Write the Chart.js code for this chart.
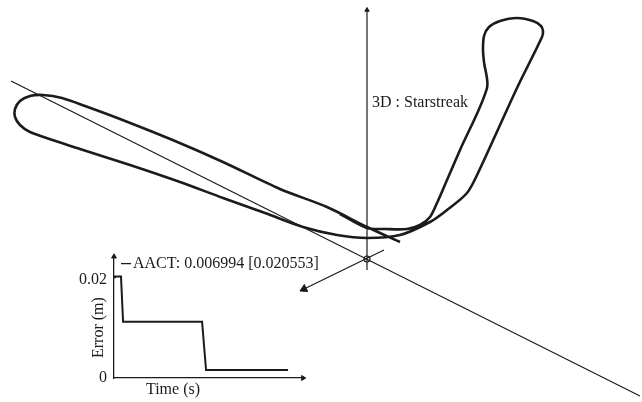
<!DOCTYPE html>
<html>
<head>
<meta charset="utf-8">
<script src="https://cdn.jsdelivr.net/npm/chart.js@4.4.0/dist/chart.umd.min.js"></script>
<style>
  body { margin: 0; background: #fff; }
  #wrap { position: relative; width: 642px; height: 402px; }
  #main { position: absolute; left: 0; top: 0; }
  #inset { position: absolute; left: 60px; top: 240px; }
</style>
</head>
<body>
<div id="wrap">
  <canvas id="main" width="642" height="402"></canvas>
  <canvas id="inset" width="270" height="162"></canvas>
</div>
<script>
	// ******************************************************** DATA

	// projected 3D view (x to the right, y downwards)
	var trackX = [400,367,327,280,223,175,120, 85, 62, 43, 30, 20, 15, 15, 20, 30, 80,130,180,223,265,303,337,367,400,430,447,467,478,517,542,543,541,533,517,500,489,484,483,484,487,460,447,437,430,420,407,385,367,340];
	var trackY = [242,227,207,189,162,141,119,106, 98, 95, 96,101,109,117,125,132,149,165,182,198,213,227,235,238,235,222,210,193,173, 88, 37, 31, 26, 21, 18, 21, 27, 36, 50, 62, 88,150,180,203,217,225,229,229,228,214];

	var diagX = [11, 640];
	var diagY = [81, 396];
	var vertX = [367, 367];
	var vertY = [10, 270];
	var horizX = [304, 384];
	var horizY = [289, 250];
	var originX = [367];
	var originY = [259];
	var viewLabel = '3D : Starstreak';

	// inset : error against time
	var errTime  = [0, 0.05, 0.37, 0.48, 4.66, 4.87, 9.21];
	var errValue = [0.0204, 0.020553, 0.020553, 0.0114, 0.0114, 0.0016, 0.0016];
	var errTicks = [0, 0.02];
	var errLegend = 'AACT: 0.006994 [0.020553]';
	var errXTitle = 'Time (s)';
	var errYTitle = 'Error (m)';

	var SERIF = '"Liberation Serif", "DejaVu Serif", serif';
	var INK = '#1b1b1b';

	function pts(xs, ys) {
		return xs.map(function (x, i) { return { x: x, y: ys[i] }; });
	}

	function lineSet(xs, ys, w, tension) {
		return {
			data: pts(xs, ys), showLine: true, borderColor: INK, borderWidth: w,
			pointRadius: 0, tension: tension || 0, fill: false
		};
	}

	// ******************************************************** MAIN VIEW

	var viewText = {
		id: 'viewText',
		afterDraw: function (chart) {
			var c = chart.ctx, sx = chart.scales.x, sy = chart.scales.y;
			c.save();
			c.fillStyle = INK;
			c.font = '16px ' + SERIF;
			c.textBaseline = 'alphabetic';
			c.fillText(viewLabel, sx.getPixelForValue(372), sy.getPixelForValue(107));
			c.restore();
		}
	};

	var mainCfg = {
		type: 'scatter',
		data: {
			datasets: [
				lineSet(trackX, trackY, 2.6, 0.3),
				lineSet(diagX, diagY, 1.2),
				lineSet(vertX, vertY, 1.2),
				lineSet(horizX, horizY, 1.2),
				{
					data: [{ x: horizX[0], y: horizY[0] }, { x: vertX[0], y: vertY[0] }],
					pointStyle: 'triangle', rotation: [244, 0], pointRadius: [4.5, 2.5],
					backgroundColor: INK, borderColor: INK, borderWidth: 1, showLine: false
				},
				{
					data: pts(originX, originY),
					pointStyle: 'circle', pointRadius: 3, backgroundColor: '#fff',
					borderColor: INK, borderWidth: 1.2, showLine: false
				}
			]
		},
		options: {
			responsive: false,
			animation: false,
			events: [],
			layout: { padding: 0, autoPadding: false },
			plugins: { legend: { display: false }, tooltip: { enabled: false } },
			scales: {
				x: { type: 'linear', min: 0, max: 642, display: false },
				y: { type: 'linear', min: 0, max: 402, reverse: true, display: false }
			}
		},
		plugins: [viewText]
	};

	new Chart(document.getElementById('main').getContext('2d'), mainCfg);

	// ******************************************************** INSET

	var X_MAX = 10, Y_MAX = 0.0246;

	var insetText = {
		id: 'insetText',
		afterDraw: function (chart) {
			var c = chart.ctx, a = chart.chartArea;
			c.save();
			c.fillStyle = INK;
			c.strokeStyle = INK;
			c.font = '16px ' + SERIF;
			// legend line + label
			c.lineWidth = 1.3;
			c.beginPath();
			c.moveTo(a.left + 7, a.top + 7);
			c.lineTo(a.left + 17, a.top + 7);
			c.stroke();
			c.textBaseline = 'middle';
			c.textAlign = 'left';
			c.fillText(errLegend, a.left + 19, a.top + 7);
			// axis titles
			c.textAlign = 'center';
			c.fillText(errXTitle, a.left + 59, a.bottom + 12);
			c.translate(a.left - 15, a.top + 71);
			c.rotate(-Math.PI / 2);
			c.fillText(errYTitle, 0, 0);
			c.restore();
		}
	};

	var insetCfg = {
		type: 'scatter',
		data: {
			datasets: [
				lineSet(errTime, errValue, 2),
				{
					data: [{ x: 0, y: Y_MAX }, { x: X_MAX, y: 0 }],
					pointStyle: 'triangle', rotation: [0, 90], pointRadius: 2.8,
					backgroundColor: INK, borderColor: INK, borderWidth: 1,
					showLine: false, clip: false
				}
			]
		},
		options: {
			responsive: false,
			animation: false,
			events: [],
			layout: { padding: { top: 15, right: 27, left: 0, bottom: 0 }, autoPadding: false },
			plugins: { legend: { display: false }, tooltip: { enabled: false } },
			scales: {
				x: {
					type: 'linear', min: 0, max: X_MAX,
					grid: { display: false, drawTicks: false },
					border: { display: true, color: INK, width: 1.3 },
					ticks: { display: false },
					afterFit: function (s) { s.height = 24; }
				},
				y: {
					type: 'linear', min: 0, max: Y_MAX,
					grid: { display: false, drawTicks: false },
					border: { display: true, color: INK, width: 1.3 },
					afterBuildTicks: function (s) { s.ticks = errTicks.map(function (v) { return { value: v }; }); },
					ticks: {
						color: INK, padding: 7,
						font: { family: SERIF, size: 16 },
						callback: function (v) { return v === 0 ? '0' : v.toFixed(2); }
					},
					afterFit: function (s) { s.width = 54; }
				}
			}
		},
		plugins: [insetText]
	};

	new Chart(document.getElementById('inset').getContext('2d'), insetCfg);
</script>
</body>
</html>
